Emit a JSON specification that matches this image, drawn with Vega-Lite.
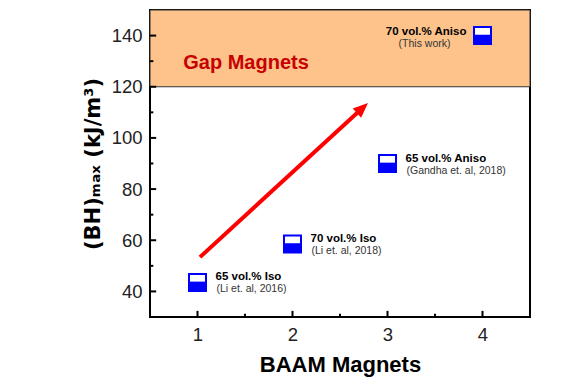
{
  "$schema": "https://vega.github.io/schema/vega-lite/v6.json",
  "width": 380,
  "height": 307,
  "autosize": "none",
  "padding": {"left": 150, "top": 10, "right": 50, "bottom": 68},
  "background": "white",
  "config": {
    "view": {"stroke": "black", "strokeWidth": 2},
    "font": "Liberation Sans"
  },
  "datasets": {
    "pts": [
      {"x": 1, "y": 43.5, "label": "65 vol.% Iso", "cite": "(Li et. al, 2016)"},
      {"x": 2, "y": 58.5, "label": "70 vol.% Iso", "cite": "(Li et. al, 2018)"},
      {"x": 3, "y": 90, "label": "65 vol.% Aniso", "cite": "(Gandha et. al, 2018)"},
      {"x": 4, "y": 140, "label": "70 vol.% Aniso", "cite": "(This work)"}
    ],
    "arrow": [
      {"x": 1.026, "y": 53.4},
      {"x": 2.717, "y": 111.0}
    ],
    "gap": [{"x": 0.5, "x2": 4.5, "y": 120, "y2": 150}],
    "gaplabel": [{"x": 0.85, "y": 129.2, "text": "Gap Magnets"}],
    "xmajor": [{"x": 1}, {"x": 2}, {"x": 3}, {"x": 4}],
    "xminor": [{"x": 1.5}, {"x": 2.5}, {"x": 3.5}],
    "ymajor": [{"y": 40}, {"y": 60}, {"y": 80}, {"y": 100}, {"y": 120}, {"y": 140}],
    "yminor": [{"y": 50}, {"y": 70}, {"y": 90}, {"y": 110}, {"y": 130}]
  },
  "resolve": {"axis": {"x": "independent", "y": "independent"}},
  "layer": [
    {
      "data": {"name": "gap"},
      "mark": {"type": "rect", "fill": "#FDC38B", "stroke": "#333333", "strokeWidth": 1},
      "encoding": {
        "x": {"field": "x", "type": "quantitative", "scale": {"domain": [0.5, 4.5], "nice": false, "zero": false},
          "axis": {"orient": "bottom", "values": [1, 2, 3, 4], "format": "d", "grid": false, "domain": false, "ticks": false,
            "title": "BAAM Magnets", "titleFont": "Liberation Sans", "titleFontSize": 22, "titleFontWeight": "bold", "titleColor": "black", "titlePadding": 11,
            "labelFont": "Liberation Sans", "labelFontSize": 18.5, "labelColor": "#222222", "labelPadding": 8}},
        "x2": {"field": "x2"},
        "y": {"field": "y", "type": "quantitative", "scale": {"domain": [30, 150], "nice": false, "zero": false},
          "axis": {"orient": "left", "values": [40, 60, 80, 100, 120, 140], "format": "d", "grid": false, "domain": false, "ticks": false,
            "title": "(BH)ₘₐₓ (kJ/m³)", "titleFont": "DejaVu Sans", "titleFontSize": 21, "titleFontWeight": "bold", "titleColor": "black", "titlePadding": 8,
            "labelFont": "Liberation Sans", "labelFontSize": 18.5, "labelColor": "#222222", "labelPadding": 8}},
        "y2": {"field": "y2"}
      }
    },
    {
      "data": {"name": "xmajor"},
      "mark": {"type": "rule", "color": "black", "strokeWidth": 2},
      "encoding": {
        "x": {"field": "x", "type": "quantitative", "scale": {"domain": [0.5, 4.5], "nice": false, "zero": false}, "axis": null},
        "y": {"datum": 30, "type": "quantitative", "scale": {"domain": [30, 150], "nice": false, "zero": false}, "axis": null},
        "y2": {"datum": 32.4}
      }
    },
    {
      "data": {"name": "xminor"},
      "mark": {"type": "rule", "color": "black", "strokeWidth": 2},
      "encoding": {
        "x": {"field": "x", "type": "quantitative", "scale": {"domain": [0.5, 4.5], "nice": false, "zero": false}, "axis": null},
        "y": {"datum": 30, "type": "quantitative", "scale": {"domain": [30, 150], "nice": false, "zero": false}, "axis": null},
        "y2": {"datum": 31.3}
      }
    },
    {
      "data": {"name": "ymajor"},
      "mark": {"type": "rule", "color": "black", "strokeWidth": 2},
      "encoding": {
        "y": {"field": "y", "type": "quantitative", "scale": {"domain": [30, 150], "nice": false, "zero": false}, "axis": null},
        "x": {"datum": 0.5, "type": "quantitative", "scale": {"domain": [0.5, 4.5], "nice": false, "zero": false}, "axis": null},
        "x2": {"datum": 0.565}
      }
    },
    {
      "data": {"name": "yminor"},
      "mark": {"type": "rule", "color": "black", "strokeWidth": 2},
      "encoding": {
        "y": {"field": "y", "type": "quantitative", "scale": {"domain": [30, 150], "nice": false, "zero": false}, "axis": null},
        "x": {"datum": 0.5, "type": "quantitative", "scale": {"domain": [0.5, 4.5], "nice": false, "zero": false}, "axis": null},
        "x2": {"datum": 0.535}
      }
    },
    {
      "data": {"name": "gaplabel"},
      "mark": {"type": "text", "align": "left", "baseline": "middle", "font": "Liberation Sans", "fontSize": 20, "fontWeight": "bold", "color": "#C80000"},
      "encoding": {
        "x": {"field": "x", "type": "quantitative", "scale": {"domain": [0.5, 4.5], "nice": false, "zero": false}, "axis": null},
        "y": {"field": "y", "type": "quantitative", "scale": {"domain": [30, 150], "nice": false, "zero": false}, "axis": null},
        "text": {"field": "text"}
      }
    },
    {
      "data": {"name": "arrow"},
      "mark": {"type": "line", "color": "#FF0000", "strokeWidth": 4},
      "encoding": {
        "x": {"field": "x", "type": "quantitative", "scale": {"domain": [0.5, 4.5], "nice": false, "zero": false}, "axis": null},
        "y": {"field": "y", "type": "quantitative", "scale": {"domain": [30, 150], "nice": false, "zero": false}, "axis": null}
      }
    },
    {
      "data": {"name": "arrow"},
      "transform": [{"filter": "datum.y > 100"}],
      "mark": {"type": "point", "shape": "M0,-1L0.62,0.5L-0.62,0.5Z", "filled": true, "color": "#FF0000", "opacity": 1, "size": 400, "angle": 47.5},
      "encoding": {
        "x": {"field": "x", "type": "quantitative", "scale": {"domain": [0.5, 4.5], "nice": false, "zero": false}, "axis": null},
        "y": {"field": "y", "type": "quantitative", "scale": {"domain": [30, 150], "nice": false, "zero": false}, "axis": null}
      }
    },
    {
      "data": {"name": "pts"},
      "mark": {"type": "point", "shape": "square", "filled": true, "fill": "white", "stroke": "#0000FF", "strokeWidth": 2, "opacity": 1, "size": 289},
      "encoding": {
        "x": {"field": "x", "type": "quantitative", "scale": {"domain": [0.5, 4.5], "nice": false, "zero": false}, "axis": null},
        "y": {"field": "y", "type": "quantitative", "scale": {"domain": [30, 150], "nice": false, "zero": false}, "axis": null}
      }
    },
    {
      "data": {"name": "pts"},
      "mark": {"type": "point", "shape": "M-1,-0.1H1V1H-1Z", "filled": true, "color": "#0000FF", "opacity": 1, "size": 289},
      "encoding": {
        "x": {"field": "x", "type": "quantitative", "scale": {"domain": [0.5, 4.5], "nice": false, "zero": false}, "axis": null},
        "y": {"field": "y", "type": "quantitative", "scale": {"domain": [30, 150], "nice": false, "zero": false}, "axis": null}
      }
    },
    {
      "data": {"name": "pts"},
      "transform": [{"filter": "datum.x < 4"}],
      "mark": {"type": "text", "align": "left", "baseline": "middle", "dx": 18, "dy": -5, "font": "Liberation Sans", "fontSize": 11.5, "fontWeight": "bold", "color": "black"},
      "encoding": {
        "x": {"field": "x", "type": "quantitative", "scale": {"domain": [0.5, 4.5], "nice": false, "zero": false}, "axis": null},
        "y": {"field": "y", "type": "quantitative", "scale": {"domain": [30, 150], "nice": false, "zero": false}, "axis": null},
        "text": {"field": "label"}
      }
    },
    {
      "data": {"name": "pts"},
      "transform": [{"filter": "datum.x < 4"}],
      "mark": {"type": "text", "align": "left", "baseline": "middle", "dx": 19, "dy": 7, "font": "Liberation Sans", "fontSize": 10.5, "color": "#333333"},
      "encoding": {
        "x": {"field": "x", "type": "quantitative", "scale": {"domain": [0.5, 4.5], "nice": false, "zero": false}, "axis": null},
        "y": {"field": "y", "type": "quantitative", "scale": {"domain": [30, 150], "nice": false, "zero": false}, "axis": null},
        "text": {"field": "cite"}
      }
    },
    {
      "data": {"name": "pts"},
      "transform": [{"filter": "datum.x == 4"}],
      "mark": {"type": "text", "align": "right", "baseline": "middle", "dx": -16, "dy": -4, "font": "Liberation Sans", "fontSize": 11.5, "fontWeight": "bold", "color": "black"},
      "encoding": {
        "x": {"field": "x", "type": "quantitative", "scale": {"domain": [0.5, 4.5], "nice": false, "zero": false}, "axis": null},
        "y": {"field": "y", "type": "quantitative", "scale": {"domain": [30, 150], "nice": false, "zero": false}, "axis": null},
        "text": {"field": "label"}
      }
    },
    {
      "data": {"name": "pts"},
      "transform": [{"filter": "datum.x == 4"}],
      "mark": {"type": "text", "align": "center", "baseline": "middle", "dx": -58, "dy": 8, "font": "Liberation Sans", "fontSize": 10.5, "color": "#333333"},
      "encoding": {
        "x": {"field": "x", "type": "quantitative", "scale": {"domain": [0.5, 4.5], "nice": false, "zero": false}, "axis": null},
        "y": {"field": "y", "type": "quantitative", "scale": {"domain": [30, 150], "nice": false, "zero": false}, "axis": null},
        "text": {"field": "cite"}
      }
    }
  ]
}
